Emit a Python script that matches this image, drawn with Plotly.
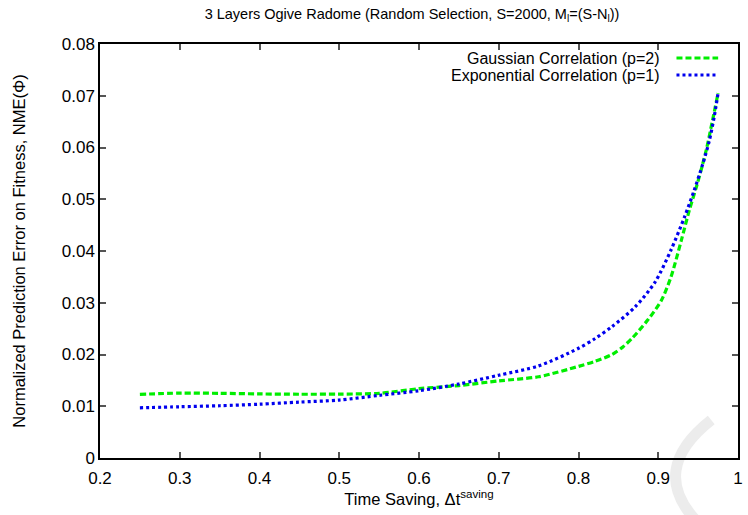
import plotly.graph_objects as go

# Data
gauss_x = [0.25, 0.3, 0.35, 0.4, 0.45, 0.5, 0.55, 0.6, 0.65, 0.7, 0.75, 0.8, 0.821,
           0.842, 0.856, 0.867, 0.887, 0.904, 0.916, 0.929, 0.939, 0.949, 0.96, 0.968, 0.975]
gauss_y = [0.0123, 0.01254, 0.0125, 0.01238, 0.01232, 0.01235, 0.0125, 0.0134,
           0.0140, 0.0149, 0.0157, 0.0177, 0.0187, 0.0200, 0.0215, 0.0231, 0.0267, 0.0305, 0.0350,
           0.0421, 0.0479, 0.0530, 0.0594, 0.0652, 0.0705]

expo_x = [0.25, 0.3, 0.35, 0.4, 0.45, 0.5, 0.55, 0.6, 0.65, 0.7, 0.75, 0.8, 0.821,
          0.842, 0.871, 0.896, 0.916, 0.933, 0.945, 0.956, 0.964, 0.970, 0.975]
expo_y = [0.0097, 0.0099, 0.0101, 0.0104, 0.0108, 0.0112, 0.0121, 0.0130,
          0.0143, 0.0160, 0.0178, 0.0212, 0.0231, 0.0254, 0.0292, 0.0340, 0.0402, 0.0466,
          0.0517, 0.0569, 0.0613, 0.0658, 0.0705]

series_names = ["Gaussian Correlation (p=2)", "Exponential Correlation (p=1)"]
x_ticks = [0.2, 0.3, 0.4, 0.5, 0.6, 0.7, 0.8, 0.9, 1.0]
x_tick_labels = ["0.2", "0.3", "0.4", "0.5", "0.6", "0.7", "0.8", "0.9", "1"]
y_ticks = [0, 0.01, 0.02, 0.03, 0.04, 0.05, 0.06, 0.07, 0.08]
y_tick_labels = ["0", "0.01", "0.02", "0.03", "0.04", "0.05", "0.06", "0.07", "0.08"]

GREEN = "#00ee00"
BLUE = "#0000ee"
FONT = "Liberation Sans, Arial, sans-serif"

fig = go.Figure()
fig.add_trace(go.Scatter(x=gauss_x, y=gauss_y, mode="lines", name=series_names[0],
                         line=dict(color=GREEN, width=3.2, dash="6px,3px", shape="spline", smoothing=0.8)))
fig.add_trace(go.Scatter(x=expo_x, y=expo_y, mode="lines", name=series_names[1],
                         line=dict(color=BLUE, width=3.2, dash="3px,3px", shape="spline", smoothing=0.8)))

axis_common = dict(showgrid=False, zeroline=False, showline=True, linecolor="black", linewidth=1.5,
                   mirror="ticks", ticks="inside", ticklen=6, tickcolor="#555555", tickwidth=1.5,
                   tickfont=dict(family=FONT, size=17, color="black"))

fig.update_xaxes(range=[0.2, 1.0], tickvals=x_ticks, ticktext=x_tick_labels, ticklabelstandoff=4,
                 title=dict(text="Time Saving, Δt<sup>saving</sup>", font=dict(family=FONT, size=16.5, color="black"),
                            standoff=4), **axis_common)
fig.update_yaxes(range=[0, 0.08], tickvals=y_ticks, ticktext=y_tick_labels,
                 title=dict(text="Normalized Prediction Error on Fitness, NME(Φ)",
                            font=dict(family=FONT, size=16.5, color="black"), standoff=32), **axis_common)

# Legend drawn gnuplot-style: right-aligned text followed by line sample
pw = 643.0
ph = 414.0
def px(x):
    return (x - 100) / pw
def py(y):
    return (458 - y) / ph

annotations = []
shapes = []
for i, (name, col, dash) in enumerate([(series_names[0], GREEN, "6px,3px"),
                                         (series_names[1], BLUE, "3px,3px")]):
    yy = 58 + 17 * i
    annotations.append(dict(x=px(666), y=py(yy), xref="paper", yref="paper", text=name,
                            showarrow=False, xanchor="right", yanchor="middle",
                            font=dict(family=FONT, size=16, color="black")))
    shapes.append(dict(type="line", xref="paper", yref="paper", x0=px(681), x1=px(723),
                       y0=py(yy), y1=py(yy), line=dict(color=col, width=3.2, dash=dash)))

# light watermark arc in the lower-right corner
shapes.append(dict(type="path", xref="paper", yref="paper", layer="below",
                   path="M %f,%f Q %f,%f %f,%f" % (px(716), py(420), px(652), py(470), px(702), py(522)),
                   line=dict(color="#ececec", width=11)))

fig.update_layout(
    width=748, height=515,
    margin=dict(l=100, r=5, t=44, b=57),
    paper_bgcolor="white", plot_bgcolor="white",
    showlegend=False,
    title=dict(text="3 Layers Ogive Radome (Random Selection, S=2000, M<sub>l</sub>=(S-N<sub>l</sub>))",
               x=412 / 748, xanchor="center", y=1 - 14 / 515, yanchor="middle",
               font=dict(family=FONT, size=14.5, color="black")),
    annotations=annotations,
    shapes=shapes,
)

fig.write_html("out.html")
